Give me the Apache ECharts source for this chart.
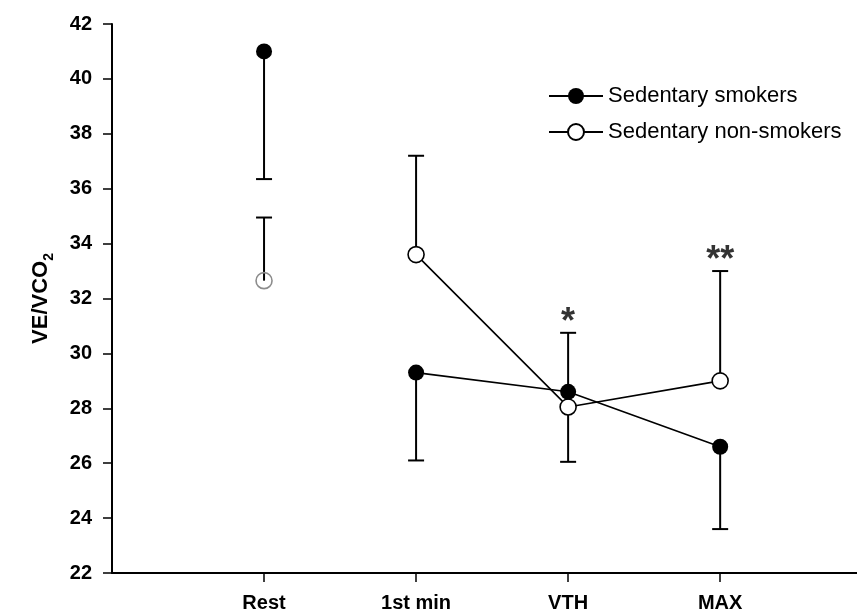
<!DOCTYPE html>
<html><head><meta charset="utf-8">
<script src="https://cdn.jsdelivr.net/npm/echarts@6/dist/echarts.min.js"></script>
<style>html,body{margin:0;padding:0;background:#fff}#c{width:857px;height:615px}</style>
</head><body><div id="c"></div>
<script>
const categories = ['Rest', '1st min', 'VTH', 'MAX'];
const smokersMean = [41.0, 29.3, 28.6, 26.6];
const smokersErrEnd = [36.35, 26.1, 30.75, 23.6];
const nonSmokersMean = [32.65, 33.6, 28.05, 29.0];
const nonSmokersErrEnd = [34.95, 37.2, 26.05, 33.0];
const significance = ['', '', '*', '**'];
const yMin = 22, yMax = 42, yStep = 2;
const seriesNames = ['Sedentary smokers', 'Sedentary non-smokers'];

const FONT = '"Liberation Sans", Arial, sans-serif';
const catIdx = categories.map((c, i) => i);
const linePts = arr => arr.map((v, i) => [i, v]).filter(p => p[0] >= 1);
const errData = (m, e) => m.map((v, i) => [i, v, e[i]]);
const starData = significance.map((s, i) => [i, Math.max(smokersErrEnd[i], nonSmokersErrEnd[i], smokersMean[i], nonSmokersMean[i]), s]).filter(d => d[2] !== '');

function errRender(params, api) {
  const x = api.value(0), m = api.value(1), e = api.value(2);
  const p0 = api.coord([x, m]), p1 = api.coord([x, e]);
  const hw = 8;
  return { type: 'group', children: [
    { type: 'line', shape: { x1: p0[0], y1: p0[1], x2: p1[0], y2: p1[1] }, style: { stroke: '#000', lineWidth: 2 } },
    { type: 'line', shape: { x1: p1[0] - hw, y1: p1[1], x2: p1[0] + hw, y2: p1[1] }, style: { stroke: '#000', lineWidth: 2 } }
  ]};
}

const chart = echarts.init(document.getElementById('c'), null, { renderer: 'canvas' });
chart.setOption({
  animation: false,
  backgroundColor: '#fff',
  grid: { left: 112, right: 0, top: 24, bottom: 42 },
  legend: {
    data: seriesNames, orient: 'vertical', left: 543, top: 80,
    itemWidth: 54, itemHeight: 20, itemGap: 14,
    textStyle: { fontSize: 22, color: '#000', fontFamily: FONT }
  },
  xAxis: {
    type: 'value', min: -1, max: 3.9,
    axisLine: { show: true, onZero: false, lineStyle: { color: '#000', width: 2 } },
    axisTick: { show: true, customValues: catIdx, length: 9, lineStyle: { color: '#000', width: 1.5 } },
    axisLabel: { customValues: catIdx, formatter: v => categories[Math.round(v)] || '', fontSize: 20, fontWeight: 'bold', color: '#000', fontFamily: FONT, margin: 20 },
    splitLine: { show: false }
  },
  yAxis: {
    type: 'value', min: yMin, max: yMax, interval: yStep,
    axisLine: { show: true, onZero: false, lineStyle: { color: '#000', width: 2 } },
    axisTick: { show: true, length: 9, lineStyle: { color: '#000', width: 1.5 } },
    axisLabel: { fontSize: 20, fontWeight: 'bold', color: '#000', fontFamily: FONT, margin: 20 },
    splitLine: { show: false },
    name: '{a|VE/VCO}{b|2}', nameLocation: 'middle', nameGap: 56, nameRotate: 90,
    nameTextStyle: { rich: {
      a: { fontSize: 22, fontWeight: 'bold', color: '#000', fontFamily: FONT, padding: [0, 0, 4, 0], verticalAlign: 'bottom' },
      b: { fontSize: 14, fontWeight: 'bold', color: '#000', fontFamily: FONT, verticalAlign: 'bottom' }
    } }
  },
  series: [
    { type: 'custom', name: 'errS', renderItem: errRender, data: errData(smokersMean, smokersErrEnd), encode: { x: 0, y: [1, 2] }, z: 2 },
    { type: 'custom', name: 'errN', renderItem: errRender, data: errData(nonSmokersMean, nonSmokersErrEnd), encode: { x: 0, y: [1, 2] }, z: 2 },
    { type: 'line', name: seriesNames[0], data: linePts(smokersMean), symbol: 'circle', symbolSize: 16,
      itemStyle: { color: '#000' }, lineStyle: { color: '#000', width: 1.6 }, z: 4 },
    { type: 'line', name: seriesNames[1], data: linePts(nonSmokersMean), symbol: 'circle', symbolSize: 16,
      itemStyle: { color: '#fff', borderColor: '#000', borderWidth: 1.6 }, lineStyle: { color: '#000', width: 1.6 }, z: 3 },
    { type: 'scatter', name: 'restS', data: [[0, smokersMean[0]]], symbol: 'circle', symbolSize: 16, itemStyle: { color: '#000', opacity: 1 }, z: 4 },
    { type: 'scatter', name: 'restN', data: [[0, nonSmokersMean[0]]], symbol: 'circle', symbolSize: 16,
      itemStyle: { color: 'rgba(255,255,255,0)', borderColor: '#8c8c8c', borderWidth: 1.6, opacity: 1 }, z: 4 },
    { type: 'scatter', name: 'sig', data: starData, symbolSize: 0, silent: true,
      label: { show: true, position: 'inside', offset: [0, -10], formatter: p => p.value[2], fontSize: 36, fontWeight: 'bold', color: '#000', fontFamily: FONT }, z: 5 }
  ]
});
</script></body></html>
